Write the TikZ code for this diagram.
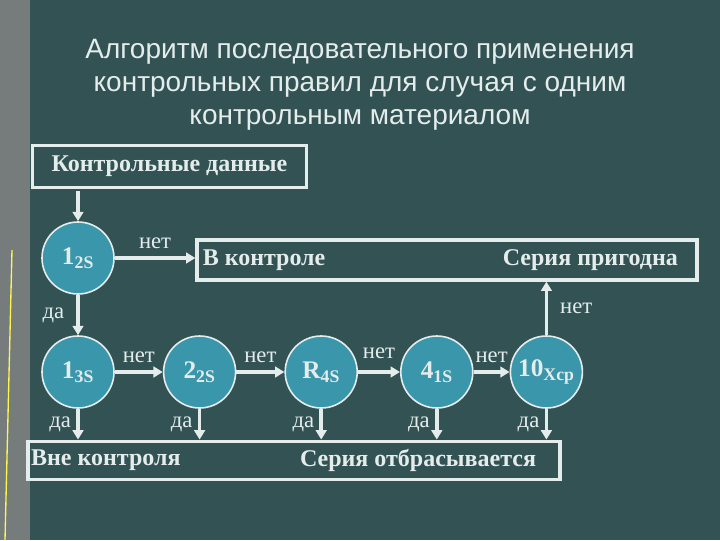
\documentclass[tikz,border=0pt]{standalone}
\usepackage{fontspec}
\setmainfont{Liberation Serif}
\newfontfamily\titlefont{Liberation Sans}
\usetikzlibrary{positioning, arrows.meta, calc}
\definecolor{bgteal}{RGB}{50,82,84}
\definecolor{circfill}{RGB}{58,150,170}
\definecolor{linecol}{RGB}{228,236,236}
\definecolor{stripgray}{RGB}{118,124,124}
\tikzstyle{arrow} = [line width=2.6pt,-{Triangle[length=7pt,width=8pt]},color=linecol]

\begin{document}
\begin{tikzpicture}[x=0.75pt, y=-0.75pt,
    check/.style={circle, draw=linecol, line width=1.2pt, fill=circfill,
                  minimum size=54pt, inner sep=0pt, text=linecol,
                  font=\bfseries\fontsize{19}{19}\selectfont},
    frame/.style={rectangle, draw=linecol, line width=2.4pt, inner sep=0pt},
    boxlbl/.style={font=\bfseries\fontsize{18}{20}\selectfont, text=linecol},
    ans/.style={font=\fontsize{17}{18}\selectfont, text=linecol, inner sep=3pt},
    node distance=36pt
]

% --- background ---
\fill[bgteal] (0,0) rectangle (720,540);
\useasboundingbox (0,0) rectangle (720,540);
\fill[stripgray] (0,0) rectangle (30,540);
\draw[yellow!70!white, line width=1pt] (12,250) -- (5,540);

% --- title ---
\node[align=center, text=linecol, font=\titlefont\fontsize{21}{24.7}\selectfont] (title)
    at (360,85) {Алгоритм последовательного применения\\
                 контрольных правил для случая с одним\\
                 контрольным материалом};

% --- boxes ---
\node[frame, minimum width=206pt, minimum height=31pt] (data) at (169.5,166.5) {};
\node[boxlbl] at (data.center) {Контрольные данные};
\node[frame, minimum width=375pt, minimum height=30pt] (ok) at (447,260) {};
\node[boxlbl, anchor=west] at ([xshift=2pt]ok.west) {В контроле};
\node[boxlbl, anchor=east] at ([xshift=-12pt]ok.east) {Серия пригодна};
\node[frame, minimum width=399pt, minimum height=29pt] (bad) at (294,460.5) {};
\node[boxlbl, anchor=west] at ([xshift=0pt]bad.west) {Вне контроля};
\node[boxlbl] at (418,460.5) {Серия отбрасывается};

% --- control rules ---
\node[check] (q12s) at (78,258) {1\textsubscript{2S}};
\node[check] (q13s) at (78,372) {1\textsubscript{3S}};
\node[check, right=36pt of q13s] (q22s) {2\textsubscript{2S}};
\node[check, right=36pt of q22s] (qr4s) {R\textsubscript{4S}};
\node[check, right=31.5pt of qr4s] (q41s) {4\textsubscript{1S}};
\node[check, right=27pt of q41s] (q10x) {10\textsubscript{Хср}};

% --- connectors ---
\draw[arrow] ([yshift=-2pt]data.south -| q12s) -- (q12s.north);
\draw[arrow] (q12s.east) -- node[ans, above, yshift=3pt] {нет} (q12s.east -| ok.west);
\draw[arrow] (q12s.south) -- node[ans, left, xshift=-6pt] {да} (q13s.north);
\draw[arrow] (q13s) -- node[ans, above, yshift=3pt] {нет} (q22s);
\draw[arrow] (q22s) -- node[ans, above, yshift=3pt] {нет} (qr4s);
\draw[arrow] (qr4s) -- node[ans, above, yshift=6pt] {нет} (q41s);
\draw[arrow] (q41s) -- node[ans, above, yshift=3pt] {нет} (q10x);
\draw[arrow] (q10x.north) -- node[ans, right, xshift=6pt] {нет} (q10x.north |- ok.south);
\foreach \q in {q13s, q22s, qr4s, q41s, q10x}
    \draw[arrow] (\q.south) -- node[ans, left, xshift=-1pt] {да} (\q.south |- bad.north);

\end{tikzpicture}
\end{document}
